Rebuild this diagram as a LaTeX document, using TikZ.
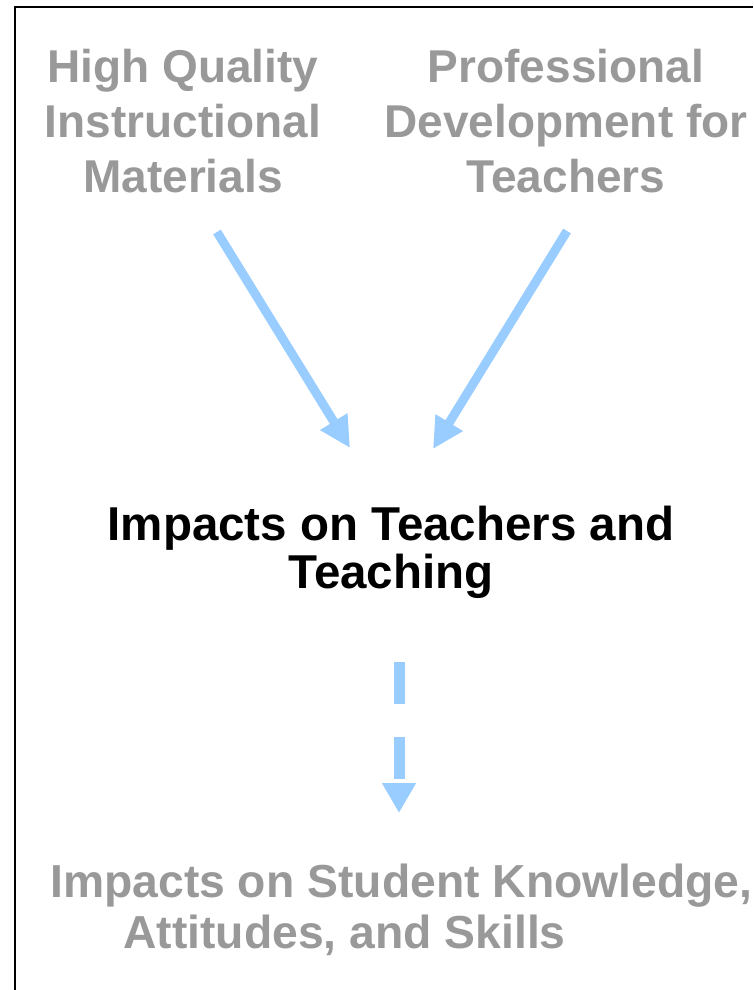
\documentclass[tikz,border=0pt]{standalone}
\usepackage{fontspec}
\setmainfont{Liberation Sans}
\usetikzlibrary{arrows.meta}

\definecolor{lightgray}{HTML}{999999}
\definecolor{skyblue}{HTML}{99CCFF}

\begin{document}
\begin{tikzpicture}[x=1pt, y=-1pt,
    every node/.style={inner sep=0pt, font=\bfseries\fontsize{46}{55}\selectfont},
    source/.style={align=center, text=lightgray, anchor=base},
    flow/.style={draw=skyblue, line width=9pt, -{Triangle[length=31pt, width=30pt]}}]

    \useasboundingbox (0,0) rectangle (753,990);
    % frame along the top and the left side
    \draw[line width=2.5pt] (753,7) -- (15,7) -- (15,990);

    % Top level inputs (base = last line)
    \node (hqim) [source] at (183,192) {High Quality\\Instructional\\Materials};
    \node (pdt) [source] at (566,192) {Professional\\Development for\\Teachers};

    % Middle box
    \node (teach) [align=center, anchor=base, font=\bfseries\fontsize{47.5}{48}\selectfont] at (391,588) {Impacts on Teachers and\\Teaching};

    % Outcome for students
    \node (stud) [align=left, anchor=base west, text=lightgray, font=\bfseries\fontsize{46.3}{51}\selectfont] at (50,948) {Impacts on Student Knowledge,\\\hspace*{73pt}Attitudes, and Skills};

    % Arrows into the middle
    \coordinate (hqim-out) at (217,232);
    \coordinate (pdt-out) at (567,231);
    \coordinate (teach-in1) at (350,448);
    \coordinate (teach-in2) at (433,449);
    \draw[flow] (hqim-out) -- (teach-in1);
    \draw[flow] (pdt-out) -- (teach-in2);

    % Dashed arrow down to students
    \coordinate (teach-out) at (399,662);
    \coordinate (stud-in) at (399,813);
    \draw[flow, line width=11pt, dash pattern=on 42pt off 33pt, -{Triangle[length=30pt, width=32pt]}] (teach-out) -- (stud-in);

\end{tikzpicture}
\end{document}
